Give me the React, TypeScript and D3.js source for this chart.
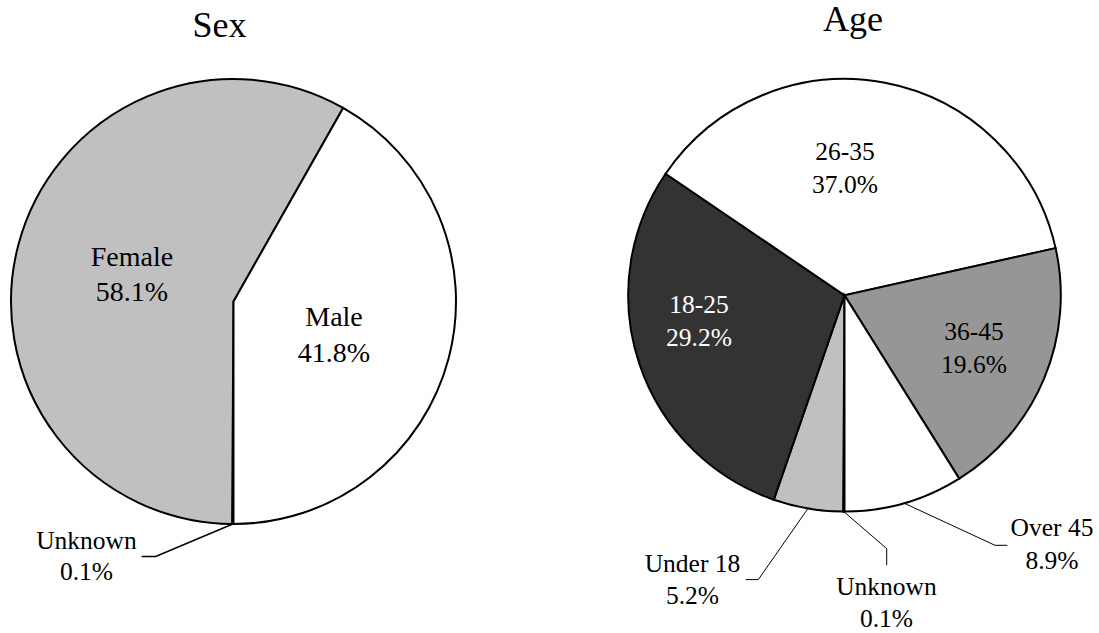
import React, { useEffect, useRef } from "react";
import * as d3 from "d3";

// ---- data ----
const sexCategories = ["Unknown", "Female", "Male"];
const sexValues = [0.1, 58.1, 41.8];
const ageCategories = ["Unknown", "Under 18", "18-25", "26-35", "36-45", "Over 45"];
const ageValues = [0.1, 5.2, 29.2, 37.0, 19.6, 8.9];

// ---- styles / layout ----
const sexColors = ["#ffffff", "#c0c0c0", "#ffffff"];
const ageColors = ["#ffffff", "#c0c0c0", "#333333", "#ffffff", "#969696", "#ffffff"];
const ageTextColors = ["#000", "#000", "#fff", "#000", "#000", "#000"];
const sexTextColors = ["#000", "#000", "#000"];

type Lbl = { dx: number; dy: number; fs: number; lh: number; leader?: [number, number][] };

const sexLabels: Lbl[] = [
  { dx: -147, dy: 254.7, fs: 25.5, lh: 31.7, leader: [[-77.8, 255], [-91.8, 255]] },
  { dx: -101.5, dy: -27.7, fs: 28, lh: 35 },
  { dx: 100.5, dy: 33.3, fs: 28, lh: 35.5 },
];
const ageLabels: Lbl[] = [
  { dx: 42, dy: 307.75, fs: 25.5, lh: 32, leader: [[42.2, 253.3], [42.2, 270]] },
  { dx: -152, dy: 284.5, fs: 25.5, lh: 32.3, leader: [[-86.2, 284.3], [-98.8, 284.3]] },
  { dx: -145.5, dy: 25.75, fs: 25.5, lh: 32.2 },
  { dx: 0.5, dy: -127.25, fs: 25.5, lh: 32.6 },
  { dx: 129.5, dy: 52.75, fs: 25.5, lh: 32.6 },
  { dx: 207.5, dy: 248.75, fs: 25.5, lh: 32.3, leader: [[150.5, 250], [162.8, 250]] },
];

const FONT = "Liberation Serif";

function drawPie(
  svg: d3.Selection<SVGSVGElement, unknown, null, undefined>,
  cx: number, cy: number, r: number,
  cats: string[], vals: number[], colors: string[], textColors: string[],
  labels: Lbl[], title: string, tx: number, ty: number, leaderW: number
) {
  const pie = d3.pie<number>().sort(null).value((d) => d).startAngle(Math.PI).endAngle(3 * Math.PI);
  const arcs = pie(vals);
  const arc = d3.arc<d3.PieArcDatum<number>>().innerRadius(0).outerRadius(r);
  svg.append("text").attr("x", tx).attr("y", ty).attr("text-anchor", "middle")
    .attr("font-family", FONT).attr("font-size", 36).attr("fill", "#000").text(title);
  const g = svg.append("g").attr("transform", `translate(${cx},${cy})`);
  g.selectAll("path.slice").data(arcs).join("path").attr("class", "slice")
    .attr("d", (d) => arc(d) || "").attr("fill", (_, i) => colors[i])
    .attr("stroke", "#000").attr("stroke-width", 2);
  arcs.forEach((a, i) => {
    const L = labels[i];
    if (L.leader) {
      const mid = (a.startAngle + a.endAngle) / 2;
      const pts: [number, number][] = [[r * Math.sin(mid), -r * Math.cos(mid)], ...L.leader];
      g.append("path").attr("d", d3.line()(pts) || "").attr("fill", "none")
        .attr("stroke", "#000").attr("stroke-width", leaderW);
    }
    const capH = L.fs * 0.662;
    const b1 = L.dy - (L.lh - capH) / 2;
    const pct = d3.format(".1f")(vals[i]) + "%";
    [cats[i], pct].forEach((s, j) => {
      g.append("text").attr("x", L.dx).attr("y", b1 + j * L.lh).attr("text-anchor", "middle")
        .attr("font-family", FONT).attr("font-size", L.fs).attr("fill", textColors[i]).text(s);
    });
  });
}

export default function App() {
  const ref = useRef<SVGSVGElement>(null);
  useEffect(() => {
    if (!ref.current) return;
    const svg = d3.select(ref.current);
    svg.selectAll("*").remove();
    svg.append("rect").attr("width", 1099).attr("height", 633).attr("fill", "#fff");
    drawPie(svg, 233.5, 301.5, 222.5, sexCategories, sexValues, sexColors, sexTextColors, sexLabels, "Sex", 219.4, 37, 1.6);
    drawPie(svg, 844.5, 295.3, 216.3, ageCategories, ageValues, ageColors, ageTextColors, ageLabels, "Age", 853, 31, 1);
  }, []);
  return <svg ref={ref} width={1099} height={633} style={{ position: "absolute", left: 0, top: 0 }} />;
}
